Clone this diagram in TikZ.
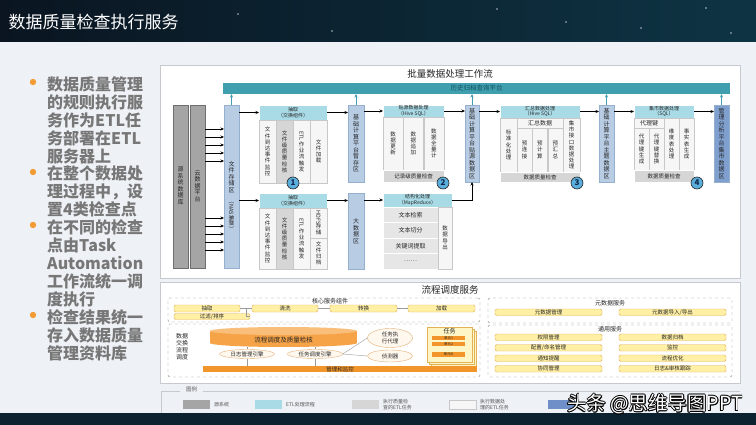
\documentclass[tikz,border=0pt]{standalone}
\usepackage{fontspec}
\usepackage{graphicx}
\setmainfont{Noto Sans CJK SC}
\usetikzlibrary{arrows.meta,calc,positioning,shapes.geometric}
\definecolor{pagebg}{HTML}{EEF1F5}
\definecolor{hdrleft}{HTML}{0A1521}
\definecolor{hdrright}{HTML}{0E3444}
\definecolor{footbg}{HTML}{0C2230}
\definecolor{ink}{HTML}{262626}
\definecolor{bulletink}{HTML}{777777}
\definecolor{bulletdot}{HTML}{F39C34}
\definecolor{panelline}{HTML}{C6C9CE}
\definecolor{srcgray}{HTML}{A5A5A5}
\definecolor{srcline}{HTML}{6E6E6E}
\definecolor{storeblue}{HTML}{B8CCE4}
\definecolor{storeline}{HTML}{95AFCF}
\definecolor{analblue}{HTML}{7F9FCF}
\definecolor{histteal}{HTML}{3F9FAF}
\definecolor{histink}{HTML}{12505C}
\definecolor{headteal}{HTML}{A9DBE7}
\definecolor{qcgray}{HTML}{D6D6D6}
\definecolor{rowgray}{HTML}{E6E6E6}
\definecolor{cellwhite}{HTML}{F6F6F6}
\definecolor{cellline}{HTML}{C8C8C8}
\definecolor{noblue}{HTML}{5AAEDC}
\definecolor{nonavy}{HTML}{10264A}
\definecolor{dashgray}{HTML}{8A8A8A}
\definecolor{barfill}{HTML}{FFF0A5}
\definecolor{barline}{HTML}{E2B257}
\definecolor{taskfill}{HTML}{FFF6C8}
\definecolor{cylbody}{HTML}{F6A347}
\definecolor{cyltop}{HTML}{F9BE7A}
\definecolor{mgmtorange}{HTML}{F2952A}
\definecolor{engfill}{HTML}{FFF8EE}
\definecolor{engline}{HTML}{E3B27A}
\definecolor{linkgray}{HTML}{9A9A9A}
\definecolor{legink}{HTML}{555555}
\definecolor{legblue}{HTML}{6F8FC8}
\newcommand\tightlines{\lineskiplimit=-20pt\relax}

\begin{document}
\begin{tikzpicture}[x=1pt, y=-1pt,
  font=\fontsize{5.5}{6.2}\selectfont,
  >={Stealth[length=3.5pt,width=3pt]},
  nw/.style={anchor=north west, inner sep=0pt, outer sep=0pt},
  srcbox/.style={nw, fill=srcgray, draw=srcline, line width=0.4pt, minimum width=15, minimum height=163},
  storebox/.style={nw, fill=storeblue, draw=storeline, line width=0.4pt, minimum width=15},
  headbox/.style={nw, fill=headteal, draw=white, line width=0.4pt, align=center, text=ink,
    font=\fontsize{5}{5.6}\selectfont},
  cellbox/.style={nw, draw=cellline, line width=0.3pt, text=ink},
  vcol/.style={align=center, inner sep=0pt, text=ink,
    font=\fontsize{5.5}{6.2}\selectfont\tightlines},
  vlabel/.style={align=center, inner sep=0pt, text=ink,
    font=\fontsize{6}{6.5}\selectfont\tightlines},
  qcbar/.style={nw, fill=qcgray, draw=white, line width=0.4pt, text=ink},
  flow/.style={->, draw=black, line width=0.7pt},
  upflow/.style={->, draw=histteal, line width=0.8pt},
  stepno/.style={circle, draw=black!85, line width=0.6pt, fill=noblue, inner sep=0pt,
    minimum size=12, font=\fontsize{8}{8}\selectfont\bfseries, text=nonavy},
  dashbox/.style={nw, draw=dashgray, dashed, line width=0.4pt, rounded corners=2pt},
  ybar/.style={nw, fill=barfill, draw=barline, line width=0.4pt, rounded corners=1.5pt, text=ink},
  link/.style={draw=linkgray, line width=0.4pt},
  engine/.style={ellipse, draw=engline, fill=engfill, inner sep=0pt, text=ink},
  bullet/.style={anchor=north west, inner sep=0pt, align=left, text=bulletink,
    font=\fontsize{16}{18}\selectfont\bfseries},
  swatch/.style={nw, minimum width=27, minimum height=9},
  legtext/.style={anchor=west, inner sep=0pt, text=legink, align=left, font=\fontsize{5}{5.8}\selectfont},
  wmark/.style={inner sep=0pt, font=\fontsize{19.5}{20}\selectfont}
]
\useasboundingbox (0,0) rectangle (756,425);

% page, header and footer band
\fill[pagebg] (0,0) rectangle (756,425);
\shade[left color=hdrleft, right color=hdrright] (0,0) rectangle (756,42);
\foreach \sx/\sy in {238/14, 332/31, 497/9, 566/22, 641/28, 706/8, 731/33}
  \fill[white, opacity=0.7] (\sx,\sy) circle (0.8);
\fill[footbg] (0,413) rectangle (756,425);
\node[anchor=west, text=white, font=\fontsize{17}{20}\selectfont] (title) at (5,22) {数据质量检查执行服务};

% bullet text
\foreach \by in {82,172,225,315}
  \fill[bulletdot] (33,\by) circle (3.2);
\node[bullet] (b1) at (47,76) {数据质量管理\\的规则执行服\\务作为ETL任\\务部署在ETL\\服务器上};
\node[bullet] (b2) at (47,166) {在整个数据处\\理过程中，设\\置4类检查点};
\node[bullet] (b3) at (47,219) {在不同的检查\\点由Task\\Automation\\工作流统一调\\度执行};
\node[bullet] (b4) at (47,309) {检查结果统一\\存入数据质量\\管理资料库};

% batch workflow panel
\node[nw, fill=white, draw=panelline, minimum width=580, minimum height=213] (batch) at (160,65) {};
\node[text=ink, font=\fontsize{9.5}{10}\selectfont] (batchtitle) at (450,73.5) {批量数据处理工作流};
\node[nw, fill=histteal, minimum width=507, minimum height=11, text=histink,
  font=\fontsize{6.5}{7}\selectfont] (hist) at (223,83) {历史归档查询平台};

% sources and file store
\node[srcbox] (srcdb) at (173,105) {};
\node[vlabel] (srcdbt) at (180.5,186) {源\\系\\统\\数\\据\\库};
\node[srcbox] (cloud) at (190,105) {};
\node[vlabel] (cloudt) at (197.5,186) {云\\数\\据\\平\\台};
\node[storebox, minimum height=163] (nas) at (224,105) {};
\node[vlabel] (nast) at (231.5,212) {文\\件\\存\\储\\区\\\rotatebox{-90}{\fontsize{5.5}{6}\selectfont（NAS集群）}\\[30pt]};
\foreach \ay in {129,137,145,153,161,218,226,234,242,250}
  \draw[flow] (cloud.east |- 0,\ay) -- (nas.west |- 0,\ay);
\draw[upflow] (nas.north) -- (nas.north |- hist.south);

% extraction, upper branch
\node[headbox, minimum width=68, minimum height=15] (exa) at (259,105) {抽取\\（交换组件）};
\foreach \cx/\cf/\ct [count=\i] in {259/cellwhite/{文\\件\\到\\达\\事\\件\\监\\控},
    276/qcgray/{文\\件\\级\\质\\量\\检\\核}, 293/cellwhite/{\rotatebox{-90}{ETL}\\[9pt]作\\业\\流\\触\\发},
    310/cellwhite/{文\\件\\加\\载}}
{
  \node[cellbox, fill=\cf, minimum width=17, minimum height=63] (exa\i) at (\cx,120) {};
  \node[vcol] (exat\i) at (exa\i.center) {\ct};
}
% extraction, lower branch
\node[headbox, minimum width=68, minimum height=15] (exb) at (259,193) {抽取\\（交换组件）};
\foreach \cx/\cf/\ct [count=\i] in {259/cellwhite/{文\\件\\到\\达\\事\\件\\监\\控},
    276/qcgray/{文\\件\\级\\质\\量\\检\\核}, 293/cellwhite/{\rotatebox{-90}{ETL}\\[9pt]作\\业\\流\\触\\发}}
{
  \node[cellbox, fill=\cf, minimum width=17, minimum height=61] (exb\i) at (\cx,208) {};
  \node[vcol] (exbt\i) at (exb\i.center) {\ct};
}
\node[cellbox, fill=cellwhite, minimum width=17, minimum height=30] (exb4) at (310,208) {};
\node[vcol] (exbt4) at (exb4.center) {\rotatebox{-90}{HDFS}\\[12pt]存\\储};
\node[cellbox, fill=cellwhite, minimum width=17, minimum height=31] (exb5) at (310,238) {};
\node[vcol] (exbt5) at (exb5.center) {文\\件\\归\\档};
\draw[flow] (nas.east |- exa.west) -- (exa.west);
\draw[flow] (nas.east |- exb.west) -- (exb.west);

% staging and big data areas
\node[storebox, minimum width=16, minimum height=77] (stage) at (348,105) {};
\node[vlabel] (staget) at (stage.center) {基\\础\\计\\算\\平\\台\\暂\\存\\区};
\node[storebox, minimum width=16, minimum height=76] (bigdata) at (348,193) {};
\node[vlabel] (bigdatat) at (bigdata.center) {大\\数\\据\\区};
\draw[flow] (exa.east) -- (stage.west |- exa.east);
\draw[flow] (exb.east) -- (bigdata.west |- exb.east);
\draw[upflow] (stage.north) -- (stage.north |- hist.south);

% source-aligned processing
\node[headbox, minimum width=61, minimum height=12] (paste) at (383,105) {贴源数据处理\\（Hive SQL）};
\foreach \cx/\ct [count=\i] in {383/{数\\据\\更\\新}, 403.3/{数\\据\\追\\加}, 423.7/{数\\据\\全\\量\\计}}
{
  \node[cellbox, fill=cellwhite, minimum width=20.3, minimum height=53] (pc\i) at (\cx,117) {};
  \node[vcol] (pct\i) at (pc\i.center) {\ct};
}
\node[qcbar, minimum width=61, minimum height=12] (pasteqc) at (383,170) {记录级质量检查};
\draw[flow] (stage.east |- paste.west) -- (paste.west);

% structured processing
\node[headbox, minimum width=69, minimum height=14] (struct) at (383,193) {结构化处理\\（MapReduce）};
\foreach \ry/\rt [count=\i] in {207/文本检索, 222.5/文本切分, 238/关键词提取, 253.5/……}
  \node[cellbox, fill=rowgray, draw=white, minimum width=55, minimum height=15.5,
    font=\fontsize{6}{6.5}\selectfont] (row\i) at (383,\ry) {\rt};
\node[cellbox, fill=cellwhite, minimum width=14, minimum height=62] (export) at (438,207) {};
\node[vcol] (exportt) at (export.center) {数\\据\\导\\出};
\draw[flow] (bigdata.east |- struct.west) -- (struct.west);

% source-aligned data area
\node[storebox, minimum width=14, minimum height=77] (srcz) at (465,105) {};
\node[vlabel] (srczt) at (srcz.center) {基\\础\\计\\算\\平\\台\\贴\\源\\数\\据\\区};
\draw[flow] (paste.east) -- (srcz.west |- paste.east);
\draw[flow] (struct.east) -| (srcz.south);
\draw[upflow] (srcz.north) -- (srcz.north |- hist.south);

% summary processing
\node[headbox, minimum width=80, minimum height=13] (sumh) at (500,105) {汇总数据处理\\（Hive SQL）};
\node[cellbox, fill=cellwhite, minimum width=17, minimum height=54] (sumstd) at (500,118) {};
\node[vcol] (sumstdt) at (sumstd.center) {标\\准\\化\\处\\理};
\node[cellbox, fill=cellwhite, minimum width=46, minimum height=10, font=\fontsize{6}{6.5}\selectfont] (sumagg) at (517,118) {汇总数据};
\foreach \cx/\ct [count=\i] in {517/{预\\连\\接}, 532.3/{预\\计\\算}, 547.7/{预\\汇\\总}}
{
  \node[cellbox, fill=cellwhite, minimum width=15.3, minimum height=44] (sc\i) at (\cx,128) {};
  \node[vcol] (sct\i) at (sc\i.center) {\ct};
}
\node[cellbox, fill=cellwhite, minimum width=17, minimum height=54] (summart) at (563,118) {};
\node[vcol] (summartt) at (summart.center) {集\\市\\接\\口\\数\\据\\处\\理};
\node[qcbar, minimum width=80, minimum height=10] (sumqc) at (500,172) {数据质量检查};
\draw[flow] (srcz.east |- sumh.west) -- (sumh.west);

% subject data area
\node[storebox, minimum height=77] (topic) at (599,105) {};
\node[vlabel] (topict) at (topic.center) {基\\础\\计\\算\\平\\台\\主\\题\\数\\据\\区};
\draw[flow] (sumh.east) -- (topic.west |- sumh.east);
\draw[upflow] (topic.north) -- (topic.north |- hist.south);

% mart processing
\node[headbox, minimum width=60, minimum height=13] (marth) at (634,105) {集市数据处理\\（SQL）};
\node[cellbox, fill=cellwhite, minimum width=30, minimum height=10, font=\fontsize{6}{6.5}\selectfont] (mkey) at (634,118) {代理键};
\foreach \cx/\cy/\ch/\ct [count=\i] in {634/128/42/{代\\理\\键\\生\\成}, 649/128/42/{代\\理\\键\\替\\换},
    664/118/52/{维\\度\\表\\处\\理}, 679/118/52/{事\\实\\表\\生\\成}}
{
  \node[cellbox, fill=cellwhite, minimum width=15, minimum height=\ch] (mc\i) at (\cx,\cy) {};
  \node[vcol] (mct\i) at (mc\i.center) {\ct};
}
\node[qcbar, minimum width=60, minimum height=12] (martqc) at (634,170) {数据质量检查};
\draw[flow] (topic.east |- marth.west) -- (marth.west);

% analysis mart area
\node[storebox, fill=analblue, minimum height=77] (anal) at (714,105) {};
\node[vlabel] (analt) at (anal.center) {管\\理\\分\\析\\平\\台\\集\\市\\数\\据\\区};
\draw[flow] (marth.east) -- (anal.west |- marth.east);
\draw[upflow] (anal.north) -- (anal.north |- hist.south);

% check points
\node[stepno] (no1) at (293,183) {1};
\node[stepno] (no2) at (443,183) {2};
\node[stepno] (no3) at (577,183) {3};
\node[stepno] (no4) at (697,183) {4};

% scheduling panel
\node[nw, fill=white, draw=panelline, minimum width=580, minimum height=101] (sched) at (160,282) {};
\node[text=ink, font=\fontsize{9.5}{10}\selectfont] (schedtitle) at (450,290) {流程调度服务};

% core service components
\node[dashbox, minimum width=312, minimum height=24] (core) at (168,298) {};
\node[text=ink, font=\fontsize{6}{6.5}\selectfont] (coret) at (330,301.5) {核心服务组件};
\node[ybar, minimum width=66, minimum height=7] (cextract) at (174,305) {抽取};
\node[ybar, minimum width=66, minimum height=7] (cclean) at (252,305) {清洗};
\node[ybar, minimum width=67, minimum height=7] (ctrans) at (330,305) {转换};
\node[ybar, minimum width=67, minimum height=7] (cload) at (408,305) {加载};
\node[ybar, minimum width=76, minimum height=6] (cfilter) at (174,313.5) {过滤/排序};
\draw[link] (cextract) -- (cclean);
\draw[link] (cclean) -- (ctrans);
\draw[link] (ctrans) -- (cload);
\draw[link] (cfilter.east) -| ($(cextract.east)!.5!(cclean.west)$);

% data exchange scheduling
\node[dashbox, minimum width=312, minimum height=53] (xchg) at (168,324) {};
\node[align=center, text=ink, font=\fontsize{6}{7}\selectfont] (xchgt) at (182,347) {数据\\交换\\流程\\调度};
\fill[cylbody] (210,331) rectangle (357,343);
\fill[cylbody] (283.5,343) ellipse [x radius=73.5, y radius=4];
\fill[cyltop] (283.5,331) ellipse [x radius=73.5, y radius=4];
\node[text=ink, font=\fontsize{6.5}{7}\selectfont] (qcore) at (283.5,340) {流程调度及质量检核};
\node[engine, minimum width=55, minimum height=9] (logeng) at (247,354) {日志管理引擎};
\node[engine, minimum width=55, minimum height=9] (taskeng) at (315,354) {任务调度引擎};
\node[engine, minimum width=45, minimum height=19, align=center] (agent) at (390,338) {任务执\\行代理};
\node[engine, minimum width=45, minimum height=12] (detect) at (390,356) {侦测器};
\foreach \o in {4,2}
  \node[nw, fill=taskfill, draw=barline, line width=0.4pt, minimum width=45, minimum height=35] (taskbg\o) at (427+\o,327+\o) {};
\node[nw, fill=taskfill, draw=barline, line width=0.4pt, minimum width=45, minimum height=35] (task) at (427,327) {};
\node[text=ink, font=\fontsize{6}{6.5}\selectfont] (taskt) at (449.5,331) {任务};
\foreach \uy/\ut [count=\i] in {335.5/单元1, 341.5/单元2, 352/单元N}
  \node[nw, fill=mgmtorange, minimum width=33, minimum height=4.5, text=ink,
    font=\fontsize{3.5}{4}\selectfont] (unit\i) at (432,\uy) {\ut};
\node[nw, fill=mgmtorange, minimum width=274, minimum height=6, text=ink,
  font=\fontsize{5.5}{6}\selectfont] (mgmt) at (203,366) {管理和监控};
\draw[link] (logeng.north) -- (logeng.north |- qcore.south);
\draw[link] (taskeng.north) -- (taskeng.north |- qcore.south);
\draw[link] (logeng.south) -- (logeng.south |- mgmt.north);
\draw[link] (taskeng.south) -- (taskeng.south |- mgmt.north);
\draw[link] (taskeng.east) -- (agent.west);
\draw[link] (taskeng.east) -- (detect.west);

% metadata and common services
\node[dashbox, minimum width=244, minimum height=25] (meta) at (488,298) {};
\node[text=ink, font=\fontsize{6}{6.5}\selectfont] (metat) at (610,303) {元数据服务};
\node[ybar, minimum width=107, minimum height=6.5] (metamgmt) at (495,309) {元数据管理};
\node[ybar, minimum width=107, minimum height=6.5] (metaio) at (619,309) {元数据导入/导出};
\node[dashbox, minimum width=244, minimum height=52] (common) at (488,325) {};
\node[text=ink, font=\fontsize{6}{6.5}\selectfont] (commont) at (610,329.5) {通用服务};
\foreach \ry/\lt/\rt [count=\i] in {334/权限管理/数据归档, 344.5/{配置/命名管理}/监控,
    355/通知提醒/流程优化, 365.5/协同管理/{日志\&审核跟踪}}
{
  \node[ybar, minimum width=107, minimum height=6.5] (cl\i) at (495,\ry) {\lt};
  \node[ybar, minimum width=107, minimum height=6.5] (cr\i) at (619,\ry) {\rt};
}

% legend
\draw[panelline, line width=0.6pt] (180,391) -- (161,391) -- (161,413);
\draw[panelline, line width=0.6pt] (203,391) -- (740,391);
\node[text=legink, font=\fontsize{5.5}{6}\selectfont] (legt) at (191.5,389.5) {图例};
\node[swatch, fill=srcgray] (lg1) at (183,400) {};
\node[legtext] (lgt1) at (214,404.5) {源系统};
\node[swatch, fill=headteal] (lg2) at (255,400) {};
\node[legtext] (lgt2) at (286,404.5) {ETL处理流程};
\node[swatch, fill=qcgray] (lg3) at (352,400) {};
\node[legtext] (lgt3) at (383,404.5) {执行质量检\\查的ETL任务};
\node[swatch, fill=cellwhite, draw=cellline] (lg4) at (449,400) {};
\node[legtext] (lgt4) at (480,404.5) {执行数据处\\理的ETL任务};
\node[swatch, fill=legblue] (lg5) at (548,400) {};

% watermark
\foreach \dx/\dy [count=\k] in {-0.7/0, 0.7/0, 0/-0.7, 0/0.7, -0.5/-0.5, 0.5/0.5, -0.5/0.5, 0.5/-0.5}
  \node[wmark, text=black] (wmo\k) at (655+\dx,404+\dy) {头条 @思维导图PPT};
\node[wmark, text=white] (wm) at (655,404) {头条 @思维导图PPT};
\end{tikzpicture}
\end{document}
